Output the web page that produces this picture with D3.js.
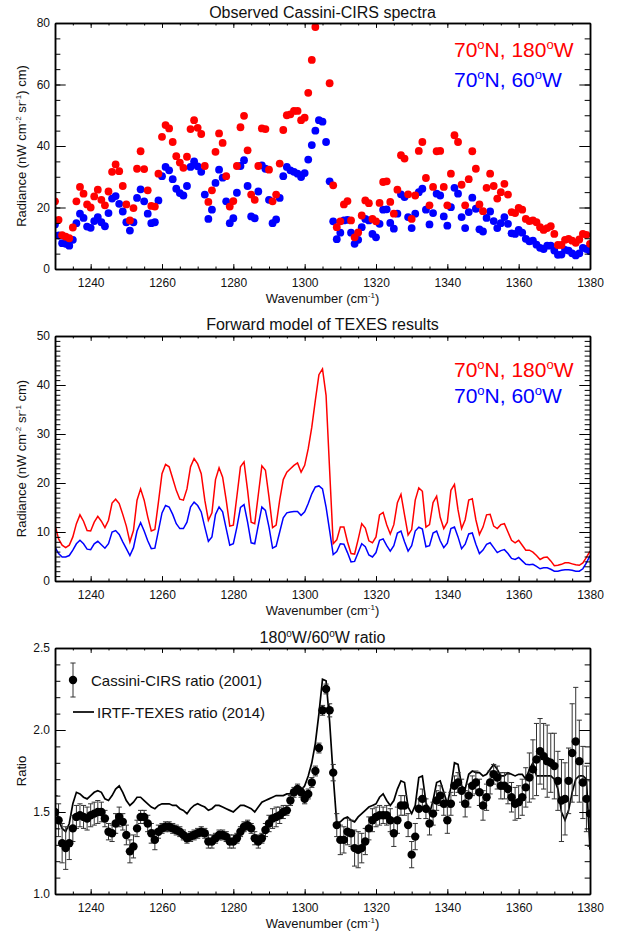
<!DOCTYPE html>
<html><head><meta charset="utf-8">
<script src="https://cdn.jsdelivr.net/npm/d3@7"></script>
<style>body{margin:0;background:#fff}svg{display:block}</style>
</head><body>
<svg id="chart" width="620" height="931"></svg>
<script>
// ---------------- DATA ----------------
const wavenumbers = [
1230,1231,1232,1233,1234,1235,1236,1237,1238,1239,
1240,1241,1242,1243,1244,1245,1246,1247,1248,1249,
1250,1251,1252,1253,1254,1255,1256,1257,1258,1259,
1260,1261,1262,1263,1264,1265,1266,1267,1268,1269,
1270,1271,1272,1273,1274,1275,1276,1277,1278,1279,
1280,1281,1282,1283,1284,1285,1286,1287,1288,1289,
1290,1291,1292,1293,1294,1295,1296,1297,1298,1299,
1300,1301,1302,1303,1304,1305,1306,1307,1308,1309,
1310,1311,1312,1313,1314,1315,1316,1317,1318,1319,
1320,1321,1322,1323,1324,1325,1326,1327,1328,1329,
1330,1331,1332,1333,1334,1335,1336,1337,1338,1339,
1340,1341,1342,1343,1344,1345,1346,1347,1348,1349,
1350,1351,1352,1353,1354,1355,1356,1357,1358,1359,
1360,1361,1362,1363,1364,1365,1366,1367,1368,1369,
1370,1371,1372,1373,1374,1375,1376,1377,1378,1379,
1380];

// Panel 1: observed Cassini-CIRS radiance
const cirsRed180W = [
22,16,11,10.5,10,13.5,22,26.7,24.5,21,
20,23.6,25.8,22.5,20.7,25.2,31.6,34,31.8,27,
21,15.8,19.8,32.6,38.3,32.5,25.6,20.5,20.3,31,
43,46.8,45.7,41.3,36.7,34.6,32.9,36.5,45.5,48.4,
45.9,43.9,33.5,21.8,25.6,38.1,44.1,41,30.2,20.3,
22.1,33.5,46.1,49.8,38.6,24.2,22.5,33.5,45.7,45.5,
32.3,22,24.2,34.3,45.2,50,50.3,51.4,51.4,48.4,
49.2,57.3,68,78.7,91.5,101.5,92.9,60.4,27.2,13.6,
15.5,21,22.1,15.8,10.3,11.9,17.4,22.3,21.4,16.3,
15.5,21.5,28.3,28.5,21.8,18,25.8,37,35.9,24.3,
16.3,23.9,38.4,41.3,29.6,20.7,26.7,38.3,38.4,26.7,
20.7,31,43.5,41.3,27.4,20.7,29.2,38.3,32.6,21,
18.8,26.4,31,27,22.9,25,27.7,24.2,18.5,18.2,
19.9,19.3,16.3,15.6,15.8,15.2,13.6,12.7,13.3,13.9,
11.4,7.8,7.8,9.5,9.8,9.2,8.5,9.6,11.4,11.1,
8.2];
const cirsBlue60W = [
14.5,10.9,8.4,8.2,7.6,9.5,14.9,18,16.6,13.8,
13.4,15.6,16.9,15.2,13.9,18.2,22.9,23.7,21.2,18.7,
15.2,12.5,15.2,23.1,25.9,22,18,14.9,15.2,22.3,
30.2,33.2,32.1,29.2,26.1,24.7,23.9,27,33.2,35,
33.4,31.6,24.2,16.3,19.3,28,32.3,29.7,22,14.9,
16.5,24.8,33.5,35.4,27,17.1,16.5,25.2,33.7,32.6,
22.5,14.9,16.1,23.1,30.2,33.2,32.1,31.6,31,29.9,
31.2,35.6,40.3,45,48.4,47.9,41.3,28.5,15.5,9.7,
11.8,15.8,16,11.8,8.2,9.5,13.6,16.3,15.8,11.4,
10.3,14.7,19.3,19.4,15,13.1,18,24.3,23.4,16.9,
13.3,18,25,26.1,19.3,14.5,18.2,24.5,23.9,17.1,
14.1,20.1,26.4,24.5,16.9,13.3,18.5,23.2,19.6,12.9,
12.2,16.6,18.7,15.6,13.3,14.9,16.9,14.7,11.6,11.4,
12.7,11.8,9.8,9,9.2,7.9,6.9,6.5,7.6,7.6,
6,4.6,4.7,6.2,6,5.1,4.4,5.1,6.9,6.5,
5.8];

// Panel 2: forward model of TEXES results
const texesRed180W = [
11.4,8.6,7.3,6.8,7.3,9,11.7,13.5,12.2,10.3,
10.2,12,13.2,12.2,10.9,12.4,15.9,16.7,15.8,13.6,
11.2,8,10.3,16.5,18.8,16.5,13.1,10.2,10.5,16.1,
21.9,23.8,23.3,20.9,18.5,16.7,16.5,18.8,23.3,25,
23.9,21.9,16.5,12.4,13.9,20.7,23.1,21.2,16.5,11.2,
11.4,17.3,23.3,24.3,18.5,12,11.7,17.6,23.5,22.6,
17.1,10.9,11.4,16.5,20.7,22.2,22.9,23.6,24.1,22.2,
23.6,27,31.4,36.9,42.1,43.3,37.9,22.6,7.6,8.4,
11,11,8,5.6,5.5,8.5,11.7,10.8,8.2,7.8,
9,13.5,14,11.5,9.6,11.5,16,17.7,13.5,9.4,
10.5,16.5,19,18.3,11,11.5,16,17.3,13,10.7,
12,18.5,19.7,14.5,10.7,12.5,16.5,16.8,12.5,9.5,
11,13.5,13.6,11.2,10.7,11.5,11.7,10,8.3,7.8,
8.3,7.3,6.3,6.3,5.9,5.2,4.4,4.8,4.9,4.1,
3.1,3.2,3.4,3.7,3.7,3.5,3.3,3.2,3.7,4.8,
6.1];
const texesBlue60W = [
6.9,5.6,4.9,4.9,5.2,6.3,7.6,8.3,7.6,6.5,
6.4,7.6,8.1,7.4,6.7,7.6,10,10.3,9.5,8,
6.6,5.2,6.8,10.2,11.9,10.2,8.2,6.6,6.7,10.3,
13.9,15.4,15.1,13.6,11.7,10.7,10.7,12,15.1,16.1,
15.4,14.1,11,8.1,9,13.6,15.1,14.1,10.7,7.3,
7.6,11,15,15.6,12,7.8,7.6,11.4,15.1,14.4,
11,6.7,7.1,10,12.9,13.9,14.1,14.2,14.2,13.4,
14.1,15.8,17.8,19.2,19.4,18.8,15.1,10.3,5.4,6,
7.6,7.5,5.8,3.9,4,5.8,7.6,7,5.3,4.9,
5.8,8.3,8.6,7.2,6.1,7.2,9.8,10.2,8,6.1,
7.2,10.2,11,10.6,7,7.2,9.8,10.2,8.2,6.8,
7.7,10.7,11,9,6.6,7.5,9.6,9.8,7.5,5.6,
6.3,7.5,7.8,6.8,5.8,6.2,6.4,5.6,4.6,4.4,
4.8,4.1,3.4,3.3,3.4,3,2.5,2.7,2.7,2.4,
2,2,2.2,2.3,2.3,2.2,2,2,2.5,3.7,
5.2];

// Panel 3: 180W/60W ratio
const cirsRatio = [
1.50,1.45,1.31,1.28,1.31,1.40,1.47,1.48,1.47,1.46,
1.48,1.49,1.50,1.50,1.46,1.38,1.37,1.43,1.47,1.44,
1.36,1.26,1.29,1.40,1.47,1.47,1.43,1.37,1.33,1.38,
1.40,1.41,1.41,1.40,1.39,1.38,1.36,1.34,1.35,1.36,
1.37,1.38,1.37,1.32,1.32,1.34,1.36,1.36,1.35,1.32,
1.32,1.34,1.38,1.41,1.42,1.40,1.34,1.32,1.34,1.39,
1.43,1.46,1.47,1.48,1.50,1.51,1.57,1.62,1.64,1.62,
1.58,1.61,1.68,1.75,1.89,2.12,2.25,2.12,1.74,1.42,
1.33,1.33,1.38,1.37,1.28,1.27,1.28,1.32,1.40,1.45,
1.47,1.48,1.48,1.48,1.45,1.37,1.45,1.54,1.54,1.42,
1.24,1.35,1.52,1.58,1.52,1.43,1.49,1.57,1.60,1.55,
1.45,1.55,1.66,1.68,1.63,1.55,1.60,1.66,1.68,1.62,
1.54,1.59,1.68,1.73,1.71,1.66,1.66,1.64,1.59,1.55,
1.56,1.59,1.65,1.71,1.76,1.82,1.87,1.84,1.81,1.80,
1.78,1.69,1.57,1.58,1.69,1.86,1.93,1.81,1.68,1.58,
1.49];
const cirsRatioErr = [
.10,.10,.12,.13,.10,.08,.07,.07,.07,.07,
.07,.07,.07,.06,.05,.05,.05,.06,.06,.05,
.06,.07,.07,.05,.04,.04,.05,.06,.06,.04,
.03,.03,.03,.03,.03,.03,.03,.03,.03,.03,
.03,.03,.03,.04,.04,.03,.03,.03,.03,.04,
.04,.03,.03,.03,.03,.03,.04,.04,.03,.04,
.05,.06,.06,.05,.04,.03,.03,.03,.03,.03,
.03,.03,.03,.03,.03,.03,.03,.04,.05,.07,
.09,.08,.08,.08,.11,.11,.09,.08,.07,.07,
.06,.06,.05,.06,.07,.08,.08,.06,.06,.07,
.08,.08,.06,.06,.06,.07,.07,.06,.06,.07,
.08,.07,.06,.06,.07,.08,.07,.06,.07,.08,
.09,.08,.07,.06,.07,.08,.08,.09,.09,.10,
.10,.11,.12,.15,.18,.22,.20,.20,.22,.18,
.20,.18,.25,.22,.20,.30,.33,.25,.22,.20,
.20];
const texesRatio = [
1.52,1.45,1.40,1.38,1.43,1.55,1.62,1.61,1.59,1.58,
1.60,1.62,1.63,1.62,1.58,1.57,1.60,1.64,1.66,1.62,
1.57,1.54,1.56,1.59,1.59,1.57,1.55,1.53,1.52,1.54,
1.55,1.55,1.55,1.54,1.54,1.52,1.51,1.49,1.52,1.54,
1.55,1.54,1.53,1.51,1.52,1.54,1.54,1.53,1.52,1.51,
1.50,1.52,1.54,1.54,1.53,1.52,1.50,1.53,1.56,1.57,
1.58,1.59,1.60,1.60,1.60,1.61,1.61,1.62,1.63,1.63,
1.66,1.72,1.80,1.92,2.10,2.31,2.30,2.05,1.72,1.43,
1.44,1.46,1.47,1.45,1.44,1.47,1.49,1.51,1.53,1.54,
1.55,1.59,1.61,1.57,1.54,1.57,1.64,1.69,1.68,1.53,
1.49,1.54,1.71,1.72,1.56,1.49,1.57,1.68,1.69,1.62,
1.55,1.65,1.80,1.79,1.66,1.64,1.73,1.75,1.74,1.74,
1.72,1.73,1.76,1.79,1.76,1.72,1.72,1.74,1.73,1.72,
1.73,1.73,1.70,1.76,1.80,1.72,1.72,1.72,1.72,1.72,
1.70,1.64,1.50,1.45,1.51,1.62,1.70,1.72,1.72,1.70,
1.27];

const xTickValues = [1240,1260,1280,1300,1320,1340,1360,1380];
const panel1YTicks = [0,20,40,60,80];
const panel2YTicks = [0,10,20,30,40,50];
const panel3YTicks = [1.0,1.5,2.0,2.5];
const legendLabels = ["70", "N, 180", "W", "70", "N, 60", "W"];

// ---------------- LAYOUT ----------------
const FONT = "'Liberation Sans', Arial, Helvetica, sans-serif";
const RED = "#ff0000", BLUE = "#0000ff";
const L = 55, R = 590;
const svg = d3.select("#chart").attr("font-family", FONT);
svg.append("rect").attr("width",620).attr("height",931).attr("fill","#fff");

const x = d3.scaleLinear().domain([1230,1380]).range([L,R]);
const xMinor = d3.range(1230,1381,5);

function rich(sel, parts, supSize, rise){
  let cur = 0;
  parts.forEach(p=>{
    const sup = Array.isArray(p);
    const target = sup ? -rise : 0;
    const t = sel.append("tspan").text(sup ? p[0] : p).attr("dy", target-cur);
    if (sup) t.attr("font-size", supSize);
    cur = target;
  });
}

function panel(id, top, bottom, domain, majorY, minorStep, fmt){
  const y = d3.scaleLinear().domain(domain).range([bottom, top]);
  const h = bottom-top, w = R-L;
  const xLen = 0.02*h, yLen = 0.02*w;
  const yMinor = d3.range(domain[0], domain[1]+minorStep/2, minorStep);
  svg.append("clipPath").attr("id","clip"+id).append("rect")
     .attr("x",L).attr("y",top).attr("width",w).attr("height",h);
  const plot = svg.append("g").attr("clip-path",`url(#clip${id})`);
  const axes = svg.append("g");
  const add = (tr, ax) => axes.append("g").attr("transform",tr).call(ax);
  add(`translate(0,${bottom})`, d3.axisBottom(x).tickValues(xMinor).tickSize(-xLen/2).tickSizeOuter(0).tickFormat(""));
  add(`translate(0,${bottom})`, d3.axisBottom(x).tickValues(xTickValues).tickSize(-xLen).tickSizeOuter(0).tickPadding(9.5).tickFormat(d3.format("d")));
  add(`translate(0,${top})`, d3.axisTop(x).tickValues(xMinor).tickSize(-xLen/2).tickSizeOuter(0).tickFormat(""));
  add(`translate(0,${top})`, d3.axisTop(x).tickValues(xTickValues).tickSize(-xLen).tickSizeOuter(0).tickFormat(""));
  add(`translate(${L},0)`, d3.axisLeft(y).tickValues(yMinor).tickSize(-yLen/2).tickSizeOuter(0).tickFormat(""));
  add(`translate(${L},0)`, d3.axisLeft(y).tickValues(majorY).tickSize(-yLen).tickSizeOuter(0).tickPadding(5).tickFormat(fmt));
  add(`translate(${R},0)`, d3.axisRight(y).tickValues(yMinor).tickSize(-yLen/2).tickSizeOuter(0).tickFormat(""));
  add(`translate(${R},0)`, d3.axisRight(y).tickValues(majorY).tickSize(-yLen).tickSizeOuter(0).tickFormat(""));
  axes.selectAll("g").attr("font-family", FONT).attr("font-size", 12);
  axes.selectAll(".domain").attr("stroke","#000").attr("stroke-width",1.5);
  axes.selectAll(".tick line").attr("stroke","#000").attr("stroke-width",1);
  axes.selectAll(".tick text").attr("fill","#111");
  const xl = svg.append("text").attr("x",(L+R)/2).attr("y",bottom+33.5)
     .attr("text-anchor","middle").attr("font-size",13).attr("fill","#111");
  rich(xl, ["Wavenumber (cm", ["-1"], ")"], 8, 5);
  return {y, plot, top, bottom};
}

function title(y, parts){
  const t = svg.append("text").attr("x",(L+R)/2).attr("y",y)
     .attr("text-anchor","middle").attr("font-size",16).attr("fill","#111");
  rich(t, parts, 10, 6);
}
function ylabel(cy, parts){
  const t = svg.append("text").attr("transform",`translate(26,${cy}) rotate(-90)`)
     .attr("text-anchor","middle").attr("font-size",13).attr("fill","#111");
  rich(t, parts, 8, 5);
}
function legendPair(yRed, yBlue){
  const a = svg.append("text").attr("x",454).attr("y",yRed).attr("font-size",21).attr("fill",RED);
  rich(a, [legendLabels[0], ["o"], legendLabels[1], ["o"], legendLabels[2]], 13, 8);
  const b = svg.append("text").attr("x",454).attr("y",yBlue).attr("font-size",21).attr("fill",BLUE);
  rich(b, [legendLabels[3], ["o"], legendLabels[4], ["o"], legendLabels[5]], 13, 8);
}

// ---------------- PANEL 1 ----------------
const p1 = panel(1, 23, 269, [0,80], panel1YTicks, 5, d3.format("d"));
title(17.5, ["Observed Cassini-CIRS spectra"]);
ylabel(146, ["Radiance (nW cm", ["-2"], " sr", ["-1"], ") cm)"]);
p1.plot.selectAll("circle.b").data(wavenumbers).join("circle").attr("class","b")
  .attr("cx",d=>x(d)).attr("cy",(d,i)=>p1.y(cirsBlue60W[i])).attr("r",3.9).attr("fill",BLUE);
p1.plot.selectAll("circle.r").data(wavenumbers).join("circle").attr("class","r")
  .attr("cx",d=>x(d)).attr("cy",(d,i)=>p1.y(cirsRed180W[i])).attr("r",3.9).attr("fill",RED);
legendPair(56.5, 86.5);

// ---------------- PANEL 2 ----------------
const p2 = panel(2, 336, 581, [0,50], panel2YTicks, 1, d3.format("d"));
title(329.5, ["Forward model of TEXES results"]);
ylabel(458.5, ["Radiance (nW cm", ["-2"], " sr", ["-1"], " cm)"]);
const line2 = arr => d3.line().x(d=>x(d)).y((d,i)=>p2.y(arr[i]))(wavenumbers);
p2.plot.append("path").attr("d",line2(texesBlue60W)).attr("fill","none").attr("stroke",BLUE).attr("stroke-width",1.5);
p2.plot.append("path").attr("d",line2(texesRed180W)).attr("fill","none").attr("stroke",RED).attr("stroke-width",1.5);
legendPair(376.5, 403);

// ---------------- PANEL 3 ----------------
const p3 = panel(3, 648, 894, [1.0,2.5], panel3YTicks, 0.1, d3.format(".1f"));
title(643, ["180", ["o"], "W/60", ["o"], "W ratio"]);
ylabel(771, ["Ratio"]);
p3.plot.append("path")
  .attr("d", d3.line().x(d=>x(d)).y((d,i)=>p3.y(texesRatio[i]))(wavenumbers))
  .attr("fill","none").attr("stroke","#000").attr("stroke-width",1.7);
const eb = p3.plot.append("g").attr("stroke","#333").attr("stroke-width",1);
wavenumbers.forEach((w,i)=>{
  const cx = x(w), y0 = p3.y(cirsRatio[i]-cirsRatioErr[i]), y1 = p3.y(cirsRatio[i]+cirsRatioErr[i]);
  eb.append("line").attr("x1",cx).attr("x2",cx).attr("y1",y0).attr("y2",y1);
  eb.append("line").attr("x1",cx-2.6).attr("x2",cx+2.6).attr("y1",y0).attr("y2",y0);
  eb.append("line").attr("x1",cx-2.6).attr("x2",cx+2.6).attr("y1",y1).attr("y2",y1);
});
p3.plot.selectAll("circle.k").data(wavenumbers).join("circle").attr("class","k")
  .attr("cx",d=>x(d)).attr("cy",(d,i)=>p3.y(cirsRatio[i])).attr("r",4.2).attr("fill","#000");

// legend panel 3
const lg = svg.append("g");
lg.append("line").attr("x1",73).attr("x2",73).attr("y1",663).attr("y2",697).attr("stroke","#333");
lg.append("line").attr("x1",70.4).attr("x2",75.6).attr("y1",663).attr("y2",663).attr("stroke","#333");
lg.append("line").attr("x1",70.4).attr("x2",75.6).attr("y1",697).attr("y2",697).attr("stroke","#333");
lg.append("circle").attr("cx",73).attr("cy",680).attr("r",4.2).attr("fill","#000");
lg.append("text").attr("x",91).attr("y",686).attr("font-size",15).attr("fill","#111").text("Cassini-CIRS ratio (2001)");
lg.append("line").attr("x1",73).attr("x2",94).attr("y1",712).attr("y2",712).attr("stroke","#000").attr("stroke-width",1.7);
lg.append("text").attr("x",97).attr("y",718).attr("font-size",15).attr("fill","#111").text("IRTF-TEXES ratio (2014)");
</script>
</body></html>
